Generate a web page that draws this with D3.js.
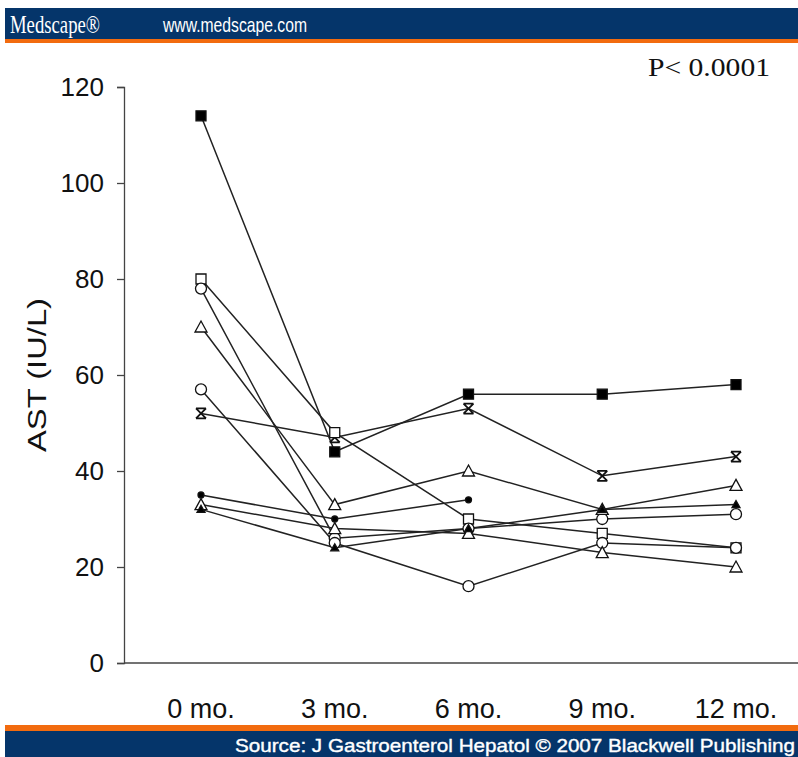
<!DOCTYPE html>
<html>
<head>
<meta charset="utf-8">
<script src="https://cdn.jsdelivr.net/npm/d3@7"></script>
<style>
  body { margin: 0; background: #fff; }
  svg { display: block; }
</style>
</head>
<body>
<div id="chart"></div>
<script>
// data
var months = ["0 mo.", "3 mo.", "6 mo.", "9 mo.", "12 mo."];
var yTicks = [0, 20, 40, 60, 80, 100, 120];

var filledSquare   = [114, 44, 56, 56, 58];
var asterisk       = [52, 47, 53, 39, 43];
var openSquare     = [80, 48, 30, 27, 24];
var openCircleA    = [78, 26, 28, 30, 31];
var openTriangleA  = [70, 33, 40, 32, 37];
var openCircleB    = [57, 25, 16, 25, 24];
var smallDot       = [35, 30, 34, null, null];
var openTriangleB  = [33, 28, 27, 23, 20];
var filledTriangle = [32, 24, 28, 32, 33];

var series = [
  {values: filledSquare, marker: "square", fill: true},
  {values: asterisk, marker: "star", fill: true},
  {values: openSquare, marker: "square", fill: false},
  {values: openCircleA, marker: "circle", fill: false},
  {values: openTriangleA, marker: "triangle", fill: false},
  {values: openCircleB, marker: "circle", fill: false},
  {values: smallDot, marker: "dot", fill: true},
  {values: openTriangleB, marker: "triangle", fill: false},
  {values: filledTriangle, marker: "smalltri", fill: true}
];

var w = 798, h = 757;
var svg = d3.select("#chart").append("svg")
  .attr("width", w)
  .attr("height", h);

var font = "Liberation Sans, Arial, sans-serif";

// header band
svg.append("rect").attr("x", 5).attr("y", 8).attr("width", w - 5).attr("height", 31).attr("fill", "#05356a");
svg.append("rect").attr("x", 5).attr("y", 39).attr("width", w - 5).attr("height", 4).attr("fill", "#f26b0f");
svg.append("text").attr("x", 10).attr("y", 33)
  .style("font-family", "Liberation Serif, serif").style("font-size", "25px")
  .attr("fill", "#fff").attr("textLength", 90).attr("lengthAdjust", "spacingAndGlyphs").text("Medscape®");
svg.append("text").attr("x", 163).attr("y", 32)
  .style("font-family", font).style("font-size", "21px")
  .attr("fill", "#fff").attr("textLength", 144).attr("lengthAdjust", "spacingAndGlyphs").text("www.medscape.com");

// footer band
svg.append("rect").attr("x", 5).attr("y", 725).attr("width", w - 5).attr("height", 6).attr("fill", "#f26b0f");
svg.append("rect").attr("x", 5).attr("y", 731).attr("width", w - 5).attr("height", 26).attr("fill", "#05356a");
svg.append("text").attr("x", 235).attr("y", 752)
  .style("font-family", font).style("font-size", "19px")
  .attr("fill", "#fff").attr("stroke", "#fff").attr("stroke-width", 0.4)
  .attr("textLength", 560).attr("lengthAdjust", "spacingAndGlyphs")
  .text("Source: J Gastroenterol Hepatol © 2007 Blackwell Publishing");

// scales
var x = d3.scalePoint().domain(months).range([201, 736]);
var y = d3.scaleLinear().domain([0, 120]).range([663, 87]);

// y axis
var yAxis = svg.append("g").attr("transform", "translate(124,0)")
  .call(d3.axisLeft(y).tickValues(yTicks).tickSize(7).tickPadding(13));
yAxis.select(".domain").attr("stroke", "#444").attr("stroke-width", 1.3);
yAxis.selectAll(".tick line").attr("stroke", "#444").attr("stroke-width", 1.3);
yAxis.selectAll("text").style("font-family", font).style("font-size", "26px").attr("fill", "#111");

// x axis
svg.append("line").attr("x1", 124).attr("x2", 798).attr("y1", y(0)).attr("y2", y(0))
  .attr("stroke", "#444").attr("stroke-width", 1.3);
svg.selectAll("text.xlab").data(months).enter().append("text")
  .attr("class", "xlab")
  .attr("x", function(d) { return x(d); })
  .attr("y", 718)
  .attr("text-anchor", "middle")
  .style("font-family", font).style("font-size", "27px").attr("fill", "#111")
  .text(function(d) { return d; });

// axis title
svg.append("text")
  .attr("transform", "translate(46,375) rotate(-90)")
  .attr("text-anchor", "middle")
  .style("font-family", font).style("font-size", "25px").attr("fill", "#111")
  .attr("textLength", 154).attr("lengthAdjust", "spacingAndGlyphs")
  .text("AST (IU/L)");

svg.append("text").attr("x", 648).attr("y", 76)
  .style("font-family", "Liberation Serif, serif").style("font-size", "26px").attr("fill", "#111")
  .attr("textLength", 122).attr("lengthAdjust", "spacingAndGlyphs")
  .text("P< 0.0001");

// lines
var line = d3.line()
  .defined(function(d) { return d != null; })
  .x(function(d, i) { return x(months[i]); })
  .y(function(d) { return y(d); });

svg.append("g").selectAll("path").data(series).enter().append("path")
  .attr("d", function(s) { return line(s.values); })
  .attr("fill", "none")
  .attr("stroke", "#222")
  .attr("stroke-width", 1.5);

// markers
function markerPath(type) {
  if (type == "square") return "M-5,-5H5V5H-5Z";
  if (type == "triangle") return "M0,-6L6,5H-6Z";
  if (type == "smalltri") return "M0,-4L4,3H-4Z";
  if (type == "star") return "M-5,-5H5M-5,5H5M-5,-5L5,5M5,-5L-5,5";
  return null;
}

series.forEach(function(s) {
  var pts = [];
  s.values.forEach(function(v, i) { if (v != null) pts.push({v: v, m: months[i]}); });
  var g = svg.append("g");
  if (s.marker == "circle" || s.marker == "dot") {
    g.selectAll("circle").data(pts).enter().append("circle")
      .attr("cx", function(d) { return x(d.m); })
      .attr("cy", function(d) { return y(d.v); })
      .attr("r", s.marker == "dot" ? 3 : 5.5)
      .attr("fill", s.fill ? "#000" : "#fff")
      .attr("stroke", "#111")
      .attr("stroke-width", 1.3);
  } else {
    g.selectAll("path").data(pts).enter().append("path")
      .attr("transform", function(d) { return "translate(" + x(d.m) + "," + y(d.v) + ")"; })
      .attr("d", markerPath(s.marker))
      .attr("fill", s.marker == "star" ? "none" : (s.fill ? "#000" : "#fff"))
      .attr("stroke", "#111")
      .attr("stroke-width", s.marker == "star" ? 1.8 : 1.3);
  }
});
</script>
</body>
</html>
